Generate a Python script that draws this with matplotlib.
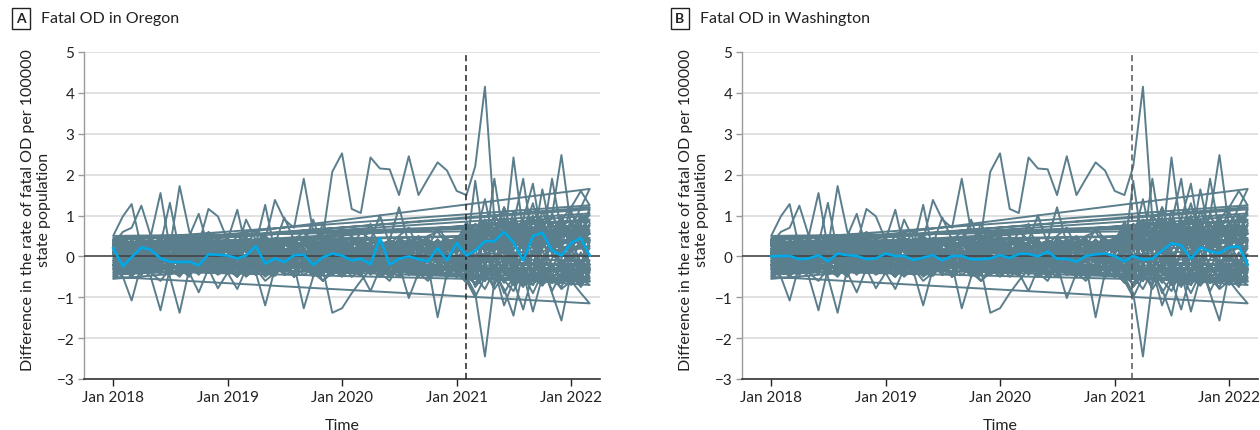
import matplotlib.pyplot as plt
import matplotlib.dates as mdates
import numpy as np
import pandas as pd

PLACEBO = "#5b7e8c"
TREATED = "#00a8e6"
GRID = "#dcdcdc"
DARK = "#222222"

plt.rcParams["font.family"] = ["Lato", "DejaVu Sans"]

months = pd.date_range("2018-01-01", "2022-03-01", freq="MS")
x_ticks = pd.to_datetime(["2018-01-01", "2019-01-01", "2020-01-01", "2021-01-01", "2022-01-01"])
x_tick_labels = ["Jan 2018", "Jan 2019", "Jan 2020", "Jan 2021", "Jan 2022"]
y_ticks = [-3, -2, -1, 0, 1, 2, 3, 4, 5]

# difference vs synthetic control, Jan 2018 - Mar 2022 (one row per year)
oregon = [.20, -.24, -.02, .22, .16, -.05, -.13, -.14, -.13, -.22, .05, .04,
          .02, -.05, .02, .25, -.18, -.05, -.14, .03, .04, -.21, -.02, .07,
          .02, -.10, -.06, -.19, .45, -.20, -.06, .00, -.07, -.12, .20, -.10,
          .33, .02, .14, .37, .37, .60, .34, -.10, .50, .58, .14, .02,
          .33, .45, .02]
washington = [.00, .01, .01, -.07, -.05, .03, -.12, .07, .03, .01, -.07, -.05,
              .07, .01, .01, -.09, -.03, .03, -.10, .01, .01, -.07, -.07, -.05,
              .03, -.04, .06, .06, .00, .12, -.06, -.06, -.13, .01, .05, .07,
              .01, -.12, .01, -.08, -.06, .14, .32, .27, -.06, .22, .12, .08,
              .22, .25, -.20]

# placebo states (same rows layout)
placebo_h1 = [.3, .5, .2, .4, .1, .3, .5, .2, .4, .3, .6, .4,
              .2, .5, .3, .6, .4, 1.38, .9, .7, 1.9, .6, .5, 2.07,
              2.52, 1.16, 1.06, 2.42, 2.15, 2.13, 1.5, 2.45, 1.5, 1.9, 2.3, 2.1,
              1.6, 1.5, 2.2, 4.15, .9, .3, 2.42, .6, 1.3, .4, 1.0, 2.48,
              .7, 1.2, 1.65]
placebo_h2 = [.5, .98, 1.28, .2, -.1, .3, 1.31, .1, .5, 1.04, .2, .1,
              .4, 1.14, .2, .3, 1.26, .1, .4, .2, .3, .9, .2, .4,
              .3, .5, .2, .8, .1, .4, 1.2, .3, .5, .2, .7, .4,
              .3, .1, .5, .8, .4, .2, 1.1, .3, .6, .9, .1, .5,
              .8, .3, 1.15]
placebo_h3 = [.3, .6, .7, 1.24, .5, 1.55, .2, 1.72, .6, .3, 1.16, .98,
              .4, .2, .9, .4, .5, .3, .95, .4, .6, .2, .8, .3,
              .5, .2, .6, .4, 1.0, .3, .5, .7, .2, .5, .6, .3,
              .4, .7, .3, .9, .5, 1.2, .4, .6, 1.0, .3, .8, .5,
              .6, .9, 1.0]
placebo_h4 = [.25, .1, .35, .05, .3, .2, .4, .1, .25, .35, .0, .3,
              .15, .35, .2, .05, .3, .4, .1, .25, .35, .15, .3, .05,
              .2, .4, .3, .1, .25, .35, .15, .3, .2, .4, .05, .3,
              .3, .1, 1.85, .2, 1.9, .4, .8, 1.9, .3, 1.64, .5, .9,
              1.2, 1.6, 1.25]
placebo_h5 = [.4, .2, .3, .45, .15, .35, .05, .3, .4, .2, .3, .1,
              .35, .2, .45, .3, .1, .25, .4, .15, .3, .45, .2, .35,
              .1, .3, .4, .2, .35, .05, .3, .4, .25, .1, .35, .3,
              .2, .6, .4, 1.4, .3, 1.2, .5, .9, 1.78, .4, 1.9, .6,
              1.1, .5, 1.2]
placebo_l1 = [-.3, -.5, -1.08, -.2, -.4, -.1, -.5, -1.38, -.3, -.2, -.4, -.1,
              -.3, -.5, -.2, -.4, -1.2, -.3, -.1, -.5, -.3, -.2, -.6, -.4,
              -.2, -.5, -.3, -.1, -.4, -.6, -.2, -.3, -.5, -.2, -1.49, -.4,
              -.3, -.6, -.2, -.5, -.4, -.8, -1.45, -.3, -.6, -.2, -.9, -1.57,
              -.4, -.7, -.3]
placebo_l2 = [-.2, -.4, -.1, -.3, -.5, -1.32, -.3, -.2, -.4, -.88, -.3, -.1,
              -.4, -.8, -.3, -.2, -.5, -.3, -.4, -.2, -1.27, -.5, -.3, -1.38,
              -1.27, -.9, -.6, -.3, -.5, -.2, -.4, -.3, -.1, -.5, -.3, -.2,
              -.4, -.5, -.9, -2.45, -.6, -.3, -.7, -.4, -1.35, -.5, -.2, -.6,
              -.3, -.5, -.2]
placebo_l3 = [-.55, -.3, -.5, -.2, -.4, -.6, -.3, -.5, -.2, -.4, -.3, -.78,
              -.4, -.2, -.5, -.3, -.6, -.4, -.2, -.5, -.3, -.4, -.6, -.3,
              -.5, -.3, -.4, -.85, -.3, -.5, -.2, -1.02, -.4, -.6, -.3, -.5,
              -.4, -.6, -1.0, -.5, -.3, -1.2, -.6, -1.3, -.4, -.7, -.5, -.8,
              -.6, -.9, -1.15]
placebo_c01 = [.12, -.25, .31, .05, -.18, .22, .40, -.08, -.30, .15, .28, -.12,
               .20, -.05, -.22, .33, .10, -.15, .25, .38, -.20, .08, .30, -.02,
               -.28, .18, .09, -.12, .35, .21, -.24, .02, .30, .12, -.10, .24,
               .40, -.30, .52, .10, .70, -.22, .41, .63, -.45, .30, .80, -.05,
               .48, -.32, .40]
placebo_c02 = [-.20, .10, -.35, .22, .30, -.10, .05, -.28, .18, .36, -.15, .08,
               -.30, .25, .12, -.18, -.35, .20, .02, -.22, .32, .15, -.08, .27,
               .05, -.30, .28, .14, -.20, -.05, .33, .18, -.25, .09, .26, -.15,
               -.10, .35, -.40, .62, .05, -.35, .55, .20, -.50, .72, .10, -.28,
               .30, .58, -.20]
placebo_c03 = [.35, .18, -.10, .40, -.22, .08, .27, .15, -.33, .02, .20, .38,
               -.12, .10, .30, -.25, .18, .36, -.05, .22, .12, -.30, .05, .34,
               .20, -.15, -.30, .25, .08, .40, -.18, .12, -.08, .33, .16, -.22,
               .28, .15, .60, -.25, .45, .85, -.10, .30, .55, -.38, .40, .92,
               .15, .65, .90]
placebo_c04 = [-.40, -.15, .10, -.30, .05, -.25, -.38, .12, -.05, -.20, .08, -.32,
               .02, -.35, -.12, .10, -.28, -.02, -.40, .15, -.18, -.08, -.33, .06,
               -.22, .12, -.38, -.10, .04, -.30, .10, -.25, -.40, -.05, .14, -.30,
               -.15, -.45, .20, -.60, -.10, .35, -.52, -.20, .15, -.65, -.05, .25,
               -.40, .10, -.55]
placebo_c05 = [.05, .30, .22, -.12, .38, .10, -.20, .32, .25, -.10, .42, .18,
               .35, -.08, .20, .40, .05, .28, -.18, .12, .37, .22, -.12, .16,
               .40, .25, -.05, .32, .44, -.10, .20, .35, .10, -.15, .38, .28,
               .05, .50, .25, .80, .30, -.15, .68, .40, .95, .20, .60, .35,
               .75, .40, .55]
placebo_c06 = [-.10, -.32, -.05, .15, -.25, -.42, .00, -.15, .20, -.35, -.22, .05,
               -.25, .08, -.40, -.15, .12, -.30, -.10, .05, -.38, -.20, .10, -.28,
               .10, -.20, -.08, -.42, -.18, .12, -.35, -.15, .05, -.32, -.20, .10,
               -.35, -.10, -.55, .05, -.40, -.20, .10, -.62, -.30, .15, -.45, -.10,
               -.58, -.25, .05]
placebo_c07 = [.25, .40, .08, .30, .15, -.05, .22, .35, .02, .28, .12, .45,
               .10, .32, .48, .05, .25, .14, .42, .30, .00, .35, .20, .10,
               .30, .45, .15, .02, .28, .38, .12, .42, .25, .05, .30, .45,
               .22, .60, .30, .75, .40, .95, .15, .55, .70, .35, 1.05, .45,
               .85, .50, .65]
placebo_c08 = [-.30, -.05, -.22, -.40, -.12, .05, -.28, -.45, -.15, -.30, -.02, -.20,
               -.42, -.18, -.05, -.32, -.22, -.45, -.10, -.28, -.15, -.40, -.25, -.05,
               -.35, -.15, -.28, -.02, -.40, -.25, -.12, -.38, -.20, -.05, -.42, -.30,
               -.20, -.40, -.70, -.25, -.55, -.15, -.48, -.75, -.30, -.60, -.20, -.52,
               -.35, -.68, -.40]
placebo_c09 = [.15, -.08, .25, .35, .00, .18, -.15, .10, .30, .05, -.20, .22,
               -.02, .28, .12, -.15, .36, .02, .20, -.10, .25, .40, .08, -.18,
               .14, .30, -.12, .22, -.05, .18, .40, -.02, .28, .15, -.20, .32,
               .10, .55, -.15, .40, .85, .20, -.30, .60, .35, .90, .05, .70,
               .30, .80, .25]
placebo_c10 = [-.05, .20, -.28, -.12, .15, .32, -.20, .05, -.10, .25, -.30, .00,
               .18, -.22, .05, .26, -.08, -.28, .12, -.02, .20, -.25, .15, .32,
               -.10, .05, .22, -.30, .15, -.20, .02, .25, -.18, .20, .05, -.12,
               .05, -.30, .40, -.10, .25, .65, -.40, .10, -.20, .50, -.35, .30,
               -.15, .40, -.30]
placebo_c11 = [.40, .22, .35, .10, .28, .45, .15, .30, .42, .20, .05, .35,
               .25, .40, .15, .32, .45, .08, .35, .22, .40, .18, .30, .42,
               .10, .35, .40, .20, .28, .05, .45, .30, .15, .38, .22, .40,
               .35, .20, .80, .45, .25, .65, .90, .35, .50, .25, .75, .60,
               .40, .95, .85]
placebo_c12 = [-.25, -.40, -.18, -.05, -.32, -.20, -.45, -.28, -.08, -.22, -.38, -.15,
               -.10, -.28, -.35, -.45, -.15, -.22, -.30, -.40, -.05, -.18, -.35, -.45,
               -.30, -.42, -.10, -.25, -.35, -.15, -.28, -.05, -.40, -.22, -.12, -.38,
               -.45, -.25, -.50, -.80, -.35, -.65, -.28, -.45, -.90, -.40, -.55, -.30,
               -.70, -.45, -.60]
placebo_c13 = [.08, -.15, .12, -.30, .22, -.05, .35, -.22, .10, -.12, .30, -.25,
               .05, .20, -.30, .15, -.12, .30, -.05, -.20, .18, -.35, .22, .02,
               -.18, .26, .02, -.20, .12, .32, -.15, .08, -.28, .18, .35, .00,
               -.25, .30, -.20, .55, -.45, .40, .10, -.30, .65, -.10, .45, -.35,
               .20, -.40, .35]
placebo_c14 = [.30, .05, .40, .20, -.10, .35, .08, .25, -.02, .38, .15, .28,
               .45, .15, .00, .22, .38, .10, .28, .45, .12, -.05, .32, .22,
               .05, .40, .25, .35, -.08, .28, .15, .38, .44, .20, .00, .35,
               .45, .70, .25, .50, .10, .80, .40, .20, .62, .45, .15, .70,
               .55, .25, .75]
placebo_c15 = [-.15, .08, -.05, -.25, -.35, -.02, -.18, .05, -.28, -.08, -.40, -.12,
               -.20, -.02, -.30, .00, -.12, -.38, -.25, -.05, -.30, .02, -.15, -.35,
               -.05, -.32, -.18, -.28, .00, -.15, -.35, -.22, -.02, -.40, -.18, -.08,
               -.30, -.55, -.05, -.40, -.70, -.20, -.45, .05, -.58, -.28, -.65, -.15,
               -.48, -.20, -.62]
placebo_c16 = [.20, .35, -.12, .18, .42, .28, .05, -.10, .32, .12, .25, -.05,
               .30, .05, .38, .18, -.08, .22, .32, .10, .42, .25, -.02, .36,
               .25, .08, .35, .42, .18, .30, -.05, .22, .35, .45, .10, .20,
               .15, .45, .60, .10, .35, .20, .75, .50, .05, .85, .30, .55,
               .65, .20, .45]
placebo_c17 = [-.35, -.20, -.45, -.10, -.28, -.38, -.15, -.05, -.40, -.25, -.12, -.42,
               -.28, -.40, -.15, -.33, -.05, -.20, -.45, -.35, -.22, -.12, -.38, -.18,
               -.42, -.08, -.30, -.40, -.25, -.45, -.10, -.32, -.18, -.35, -.45, -.22,
               -.38, -.65, -.30, -.45, -.20, -.58, -.85, -.35, -.50, -.72, -.25, -.60,
               -.45, -.75, -.35]
placebo_c18 = [.00, .15, .30, -.20, .08, -.30, .25, .02, .15, -.25, .10, .20,
               -.15, .12, .22, -.08, .30, .15, -.22, .35, -.02, .10, -.28, .20,
               .32, -.10, .15, .05, -.25, .22, .10, -.15, .02, .28, -.05, .15,
               .20, .05, .35, -.25, .60, .15, -.10, .45, .25, -.20, .55, .08,
               .38, -.15, .20]
placebo_c19 = [.45, .30, .15, .42, .32, .20, .45, .05, .35, .40, .25, .10,
               .38, .22, .42, .28, .12, .45, .30, .18, .38, .05, .45, .28,
               .45, .12, .32, .45, .25, .40, .30, .10, .42, .30, .28, .05,
               .30, .85, .45, .30, 1.05, .55, .35, .75, .40, 1.10, .60, .95,
               .50, .80, 1.05]
placebo_c20 = [-.45, -.30, -.20, -.38, -.15, -.30, -.10, -.40, -.25, -.45, -.18, -.35,
               -.15, -.45, -.28, -.20, -.42, -.12, -.35, -.25, -.45, -.30, -.20, -.40,
               -.25, -.40, -.45, -.15, -.30, -.38, -.22, -.45, -.30, -.12, -.35, -.42,
               -.30, -.50, -.65, -.35, -.80, -.45, -.20, -.55, -.70, -.35, -.62, -.48,
               -.25, -.55, -.70]
placebo_c21 = [.10, -.35, .05, .28, -.15, .12, -.30, .22, .05, -.18, .35, .15,
               -.25, .00, .15, -.20, .25, -.30, .10, .28, -.12, .20, -.35, .05,
               .22, -.25, .30, -.05, -.30, .10, .25, -.30, .15, -.15, .22, -.25,
               .00, -.40, .45, .20, -.35, .55, -.15, .35, -.50, .25, .40, -.20,
               .10, .35, -.35]
placebo_c22 = [.28, .10, .20, .45, .05, .30, .18, .40, .12, .25, .38, .02,
               .15, .35, .25, .05, .40, .20, .12, .38, .28, .15, .42, .25,
               .35, .20, .05, .38, .30, .15, .42, .20, .35, .25, .40, .15,
               .42, .25, .55, .90, .30, .45, .70, .20, .85, .50, .35, .80,
               .60, 1.00, .55]
placebo_c23 = [-.10, -.22, -.40, -.05, .10, -.15, -.35, -.20, .00, -.28, -.10, -.40,
               -.35, -.05, -.20, -.40, .05, -.15, -.28, .00, -.32, -.42, -.08, -.25,
               .00, -.35, -.20, .08, -.42, -.10, -.30, -.05, -.35, -.22, -.40, .05,
               -.25, .10, -.35, -.60, .05, -.45, -.25, -.70, .10, -.40, -.20, -.55,
               .00, -.45, -.25]
placebo_c24 = [.18, .25, .05, -.08, .20, .40, .30, .12, -.12, .30, .22, .38,
               .08, .30, -.08, .25, .20, .35, .05, -.15, .28, .32, .12, .40,
               .15, .28, .35, .12, .40, -.05, .25, .15, .30, .08, .42, .18,
               .28, .40, .15, .65, .35, .05, .55, .85, .30, .60, .20, 1.00,
               .35, .70, .40]
placebo_c25 = [-.50, -.10, -.25, -.45, -.20, -.12, -.40, -.30, -.50, -.05, -.25, -.45,
               -.30, -.50, -.20, -.08, -.38, -.48, -.15, -.42, -.22, -.50, -.10, -.32,
               -.48, -.22, -.05, -.45, -.20, -.35, -.50, -.15, -.28, -.45, -.22, -.35,
               -.50, -.20, -.75, -.45, -.25, -.90, -.50, -.30, -.70, -.15, -.85, -.40,
               -.65, -.30, -.50]
placebo_c26 = [.35, -.05, .18, .30, .42, -.02, .15, .28, .38, .08, .00, .30,
               .22, .40, .10, .35, -.05, .28, .40, .15, .05, .32, .38, .12,
               .28, .02, .42, .15, .30, .25, .05, .38, .12, .40, .22, .35,
               .20, .70, .40, .15, .55, .30, .85, .15, .45, .65, .25, .55,
               .80, .30, .60]
placebo_c27 = [-.22, .05, -.15, -.32, .02, -.40, -.05, -.20, -.35, .10, -.15, -.28,
               -.05, -.25, -.45, -.10, -.20, .05, -.35, -.15, .02, -.28, -.45, -.12,
               -.35, -.05, -.22, -.35, -.12, -.28, .05, -.40, -.22, -.10, -.30, -.45,
               -.15, -.35, -.10, -.55, -.30, -.05, -.65, -.25, -.40, -.15, -.55, -.75,
               -.20, -.50, -.10]
placebo_c28 = [.05, .22, .38, .15, .30, .08, .35, .20, .28, .45, .02, .25,
               .32, .08, .20, .42, .15, .35, .02, .30, .18, .28, .40, .08,
               .18, .35, .20, .28, .42, .10, .32, .05, .22, .35, .15, .28,
               .10, .35, .65, .25, .50, .10, .40, .70, .20, .80, .45, .25,
               .55, .30, .80]

# order matters: the placebo lines are drawn as one path, so each state's
# last month joins the next state's first month (the long straight lines)
placebos = [placebo_h1, placebo_c24, placebo_h4, placebo_c11, placebo_h5, placebo_c07,
            placebo_h2, placebo_c14, placebo_c19, placebo_c22, placebo_h3, placebo_c05,
            placebo_c03, placebo_c16, placebo_l3, placebo_c25, placebo_c01, placebo_c02,
            placebo_l1, placebo_c04, placebo_c06, placebo_c08, placebo_c09, placebo_c10,
            placebo_c12, placebo_l2, placebo_c13, placebo_c15, placebo_c17, placebo_c18,
            placebo_c20, placebo_c21, placebo_c23, placebo_c26, placebo_c27, placebo_c28]

for s in placebos + [oregon, washington]:
    assert len(s) == len(months), len(s)


def draw_panel(fig, ax, letter, title, treated, policy_date, label_x, dash_color):
    xs = np.concatenate([months.values] * len(placebos))
    ys = np.concatenate([np.asarray(s, dtype=float) for s in placebos])

    for y in y_ticks:
        if y != 0:
            ax.axhline(y, color=GRID, lw=1.2, zorder=0)
    ax.plot(xs, ys, color=PLACEBO, lw=1.4, zorder=2)
    ax.axhline(0, color="#444444", lw=1.2, zorder=3)
    ax.axvline(pd.Timestamp(policy_date), color=dash_color, lw=1.1, ls=(0, (4, 2.5)), zorder=3)
    ax.plot(months, treated, color=TREATED, lw=1.9, zorder=4)

    ax.set_ylim(-3, 5)
    ax.set_yticks(y_ticks)
    ax.set_xlim(pd.Timestamp("2017-09-30"), pd.Timestamp("2022-04-03"))
    ax.set_xticks(x_ticks)
    ax.set_xticklabels(x_tick_labels)

    for side in ["top", "right"]:
        ax.spines[side].set_visible(False)
    ax.spines["left"].set_color("#9a9a9a")
    ax.spines["bottom"].set_color("#333333")
    ax.spines["left"].set_linewidth(1.0)
    ax.spines["bottom"].set_linewidth(1.2)
    ax.tick_params(axis="x", colors=DARK, labelsize=11, length=5, width=1, pad=3)
    ax.tick_params(axis="y", colors="#9a9a9a", labelcolor=DARK, labelsize=11, length=4, width=1, pad=3)

    ax.set_xlabel("Time", fontsize=11.5, color=DARK, labelpad=10)
    ax.set_ylabel("Difference in the rate of fatal OD per 100000\nstate population",
                  fontsize=11.5, color=DARK, linespacing=1.25)
    ax.yaxis.set_label_coords(-0.063, 0.52)

    fig.text(label_x, 0.955, letter, fontsize=10, fontweight="bold", color=DARK,
             ha="center", va="center",
             bbox=dict(boxstyle="square,pad=0.3", fc="white", ec=DARK, lw=1))
    fig.text(label_x + 0.0155, 0.955, title, fontsize=11.5, color=DARK, ha="left", va="center")


fig = plt.figure(figsize=(12.6, 4.31), dpi=100)
ax_or = fig.add_axes([84 / 1260, 51 / 431, 516 / 1260, 327 / 431])
ax_wa = fig.add_axes([742 / 1260, 51 / 431, 516 / 1260, 327 / 431])

draw_panel(fig, ax_or, "A", "Fatal OD in Oregon", oregon, "2021-02-01", 21 / 1260, DARK)
draw_panel(fig, ax_wa, "B", "Fatal OD in Washington", washington, "2021-02-25", 680 / 1260, "#555555")

fig.savefig("out.png", dpi=100, facecolor="white")
